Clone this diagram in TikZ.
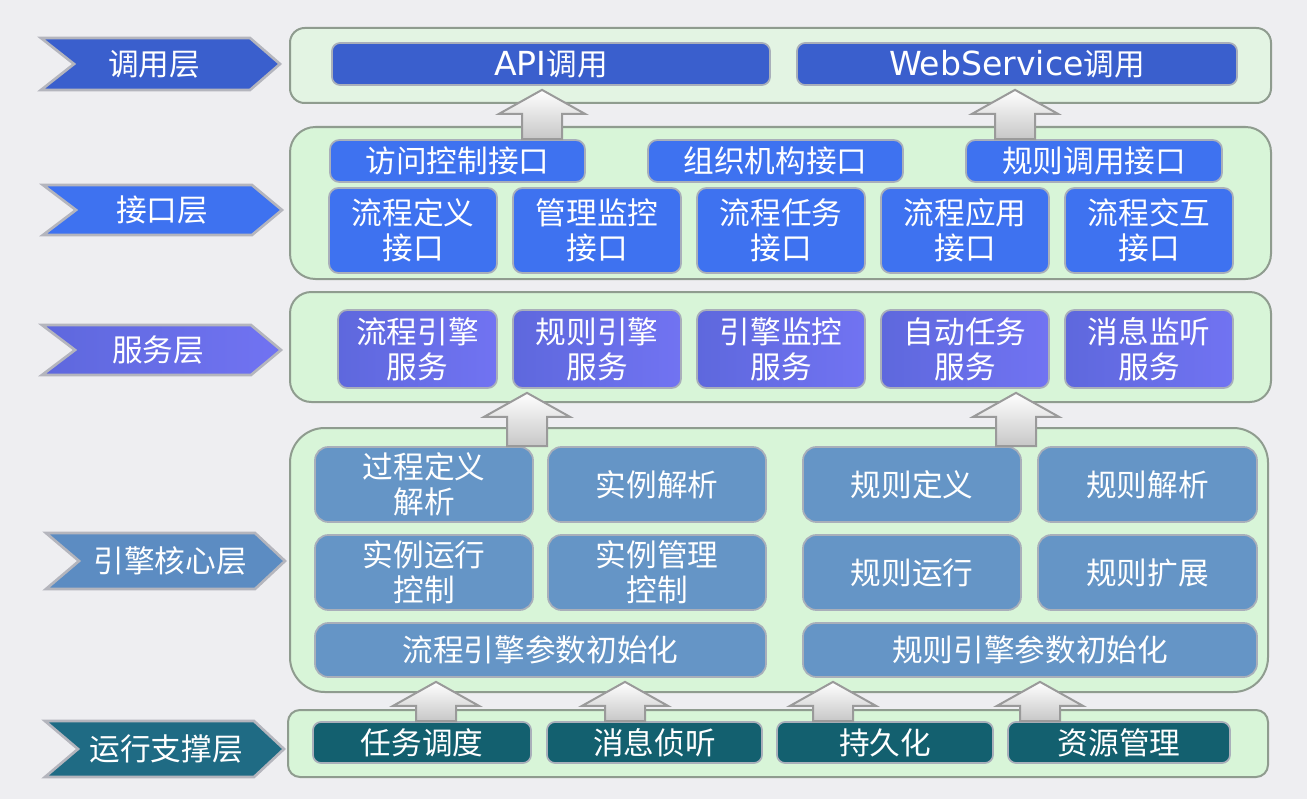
\documentclass[tikz,border=0pt]{standalone}
\usepackage{fontspec}
\newfontfamily\cjk{Noto Sans CJK SC}
\newfontfamily\latin[Scale=1.08]{DejaVu Sans}
\usepackage{tikz}
\usetikzlibrary{calc}
\usetikzlibrary{arrows.meta,backgrounds,positioning}

\definecolor{bg}{HTML}{EEEEF1}
\definecolor{panelline}{HTML}{8F9C8F}
\definecolor{panelgreen}{HTML}{D8F5D8}
\definecolor{panelpale}{HTML}{E3F4E3}
\definecolor{boxline}{HTML}{A9AFBA}
\definecolor{layerline}{HTML}{B4B5BD}
\definecolor{arrowline}{HTML}{9A9A9A}
\definecolor{callblue}{HTML}{3A5FCD}
\definecolor{ifblue}{HTML}{3E72F0}
\definecolor{svcleft}{HTML}{5E68DD}
\definecolor{svcright}{HTML}{7173F2}
\definecolor{coreblue}{HTML}{6595C6}
\definecolor{coreside}{HTML}{5C8CC2}
\definecolor{supteal}{HTML}{13606F}
\definecolor{supside}{HTML}{1F6B84}

\def\layerchevron[#1](#2)(#3)% Syntax: [draw options] (center) (half height)
    { \draw[#1] ($(#2)+(-119,-#3)$) -- ($(#2)+(90,-#3)$) -- ($(#2)+(120,0)$) -- ($(#2)+(90,#3)$) -- ($(#2)+(-119,#3)$) -- ($(#2)+(-86,0)$) -- cycle; }
\def\uparrowblock[#1](#2)(#3)% Syntax: [draw options] (tail) (tip)
    { \draw[#1] ($(#2)+(-20,0)$) -- ($(#3)+(-20,28)$) -- ($(#3)+(-43,28)$) -- ($(#3)+(0,4)$) -- ($(#3)+(43,28)$) -- ($(#3)+(20,28)$) -- ($(#2)+(20,0)$) -- cycle; }

\begin{document}
\begin{tikzpicture}
    [x=0.75pt,y=-0.75pt,
     panel/.style={draw=panelline,line width=1.5pt,fill=panelgreen},
     box/.style={draw=boxline,line width=1.3pt,rounded corners=7pt,text=white,align=center,inner sep=0pt,
        font=\cjk\fontsize{23}{26.5}\selectfont},
     sz/.style 2 args={minimum width=#1*0.75pt,minimum height=#2*0.75pt},
     callbox/.style={box,fill=callblue,rounded corners=6pt},
     ifbox/.style={box,fill=ifblue},
     svcbox/.style={box,left color=svcleft,right color=svcright},
     corebox/.style={box,fill=coreblue,rounded corners=10pt},
     supbox/.style={box,fill=supteal,rounded corners=6pt},
     layer/.style={draw=layerline,line width=2pt},
     layertext/.style={text=white,font=\cjk\fontsize{23}{26.5}\selectfont},
     blockarrow/.style={draw=arrowline,line width=1.5pt,top color=white,bottom color=black!22}]
    \fill[bg] (0,0) rectangle (1307,799);

    % layer names
    \coordinate (c1) at (160,64);
    \coordinate (c2) at (162,210);
    \coordinate (c3) at (161,350);
    \coordinate (c4) at (165,561);
    \coordinate (c5) at (164,749);
    \layerchevron[layer,fill=callblue](c1)(26)
    \layerchevron[layer,fill=ifblue](c2)(25)
    \layerchevron[layer,left color=svcleft,right color=svcright](c3)(25)
    \layerchevron[layer,fill=coreside](c4)(28)
    \layerchevron[layer,fill=supside](c5)(28)
    \node[layertext] (lcall) at ($(c1)+(-6,0)$) {调用层};
    \node[layertext] (lif) at (c2) {接口层};
    \node[layertext] (lsvc) at ($(c3)+(-3,0)$) {服务层};
    \node[layertext] (lcore) at ($(c4)+(5,0)$) {引擎核心层};
    \node[layertext] (lsup) at ($(c5)+(2,0)$) {运行支撑层};

    % panels
    \draw[panel,fill=panelpale,rounded corners=11pt] (290,28) rectangle (1271,103);
    \draw[panel,rounded corners=19pt] (290,127) rectangle (1271,279);
    \draw[panel,rounded corners=16pt] (290,292) rectangle (1271,402);
    \draw[panel,rounded corners=26pt] (290,428) rectangle (1268,692);
    \draw[panel,rounded corners=9pt] (288,710) rectangle (1268,777);

    % call
    \node[callbox,sz={438}{42}] (api) at (551,64) {{\latin API}调用};
    \node[callbox,sz={440}{42}] (ws) at (1017,64) {{\latin WebService}调用};

    % interface
    \node[ifbox,sz={255}{42}] (acc) at (457.5,161) {访问控制接口};
    \node[ifbox,sz={255}{42}] (org) at (775.5,161) {组织机构接口};
    \node[ifbox,sz={256}{42}] (rcall) at (1094,161) {规则调用接口};
    \node[ifbox,sz={168}{85}] (idef) at (413,230.5) {流程定义\\接口};
    \node[ifbox,sz={168}{85}] (imon) at (597,230.5) {管理监控\\接口};
    \node[ifbox,sz={168}{85}] (itask) at (781,230.5) {流程任务\\接口};
    \node[ifbox,sz={168}{85}] (iapp) at (965,230.5) {流程应用\\接口};
    \node[ifbox,sz={168}{85}] (iact) at (1149,230.5) {流程交互\\接口};

    % service
    \node[svcbox,sz={159}{78}] (sflow) at (417.5,349) {流程引擎\\服务};
    \node[svcbox,sz={168}{78}] (srule) at (597,349) {规则引擎\\服务};
    \node[svcbox,sz={168}{78}] (smon) at (781,349) {引擎监控\\服务};
    \node[svcbox,sz={168}{78}] (sauto) at (965,349) {自动任务\\服务};
    \node[svcbox,sz={168}{78}] (smsg) at (1149,349) {消息监听\\服务};

    % engine core
    \node[corebox,sz={218}{75}] (pdef) at (424,484.5) {过程定义\\解析};
    \node[corebox,sz={218}{75}] (iparse) at (657,484.5) {实例解析};
    \node[corebox,sz={218}{75}] (irun) at (424,572.5) {实例运行\\控制};
    \node[corebox,sz={218}{75}] (imgr) at (657,572.5) {实例管理\\控制};
    \node[corebox,sz={451}{54}] (flowinit) at (540.5,650) {流程引擎参数初始化};
    \node[corebox,sz={218}{75}] (rdef) at (912,484.5) {规则定义};
    \node[corebox,sz={219}{75}] (rparse) at (1147.5,484.5) {规则解析};
    \node[corebox,sz={218}{75}] (rrun) at (912,572.5) {规则运行};
    \node[corebox,sz={219}{75}] (rext) at (1147.5,572.5) {规则扩展};
    \node[corebox,sz={454}{54}] (ruleinit) at (1030,650) {规则引擎参数初始化};

    % support
    \node[supbox,sz={218}{41}] (task) at (422,742.5) {任务调度};
    \node[supbox,sz={215}{41}] (msg) at (654.5,742.5) {消息侦听};
    \node[supbox,sz={216}{41}] (persist) at (885,742.5) {持久化};
    \node[supbox,sz={222}{41}] (res) at (1119,742.5) {资源管理};

    % block arrows
    \coordinate (x1) at (542,0);
    \coordinate (x2) at (1015,0);
    \coordinate (x3) at (527,0);
    \coordinate (x4) at (1016,0);
    \coordinate (x5) at (436,0);
    \coordinate (x6) at (625,0);
    \coordinate (x7) at (833,0);
    \coordinate (x8) at (1040,0);
    \uparrowblock[blockarrow](x1 |- acc.north)(x1 |- api.south)
    \uparrowblock[blockarrow](x2 |- rcall.north)(x2 |- ws.south)
    \uparrowblock[blockarrow](x3 |- pdef.north)(x3 |- sflow.south)
    \uparrowblock[blockarrow](x4 |- rdef.north)(x4 |- sauto.south)
    \uparrowblock[blockarrow](x5 |- task.north)(x5 |- flowinit.south)
    \uparrowblock[blockarrow](x6 |- msg.north)(x6 |- flowinit.south)
    \uparrowblock[blockarrow](x7 |- persist.north)(x7 |- ruleinit.south)
    \uparrowblock[blockarrow](x8 |- res.north)(x8 |- ruleinit.south)

    \pgfresetboundingbox
    \useasboundingbox (0,0) rectangle (1307,799);
\end{tikzpicture}
\end{document}
